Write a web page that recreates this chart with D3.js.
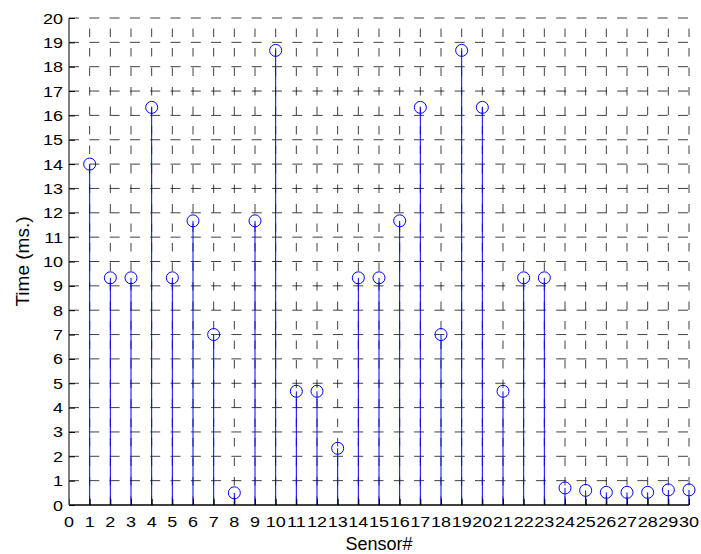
<!DOCTYPE html>
<html>
<head>
<meta charset="utf-8">
<script src="https://cdn.jsdelivr.net/npm/d3@7"></script>
<style>
  body { margin: 0; background: #fff; }
  text { font-family: "Liberation Sans", Arial, Helvetica, sans-serif; fill: #000; }
</style>
</head>
<body>
<svg id="canvas" width="701" height="554"></svg>
<script>
// sensor number and measured time (ms.)
let sensors = d3.range(1, 31)
let times = [14.0, 9.33, 9.33, 16.33, 9.33, 11.67, 7.0, 0.5, 11.67, 18.67,
             4.67, 4.67, 2.33, 9.33, 9.33, 11.67, 16.33, 7.0, 18.67, 16.33,
             4.67, 9.33, 9.33, 0.7, 0.6, 0.52, 0.52, 0.52, 0.62, 0.62]
let xTicks = d3.range(0, 31)
let yTicks = d3.range(0, 21)

let canvas = d3.select('#canvas')

let plotLeft = 69, plotRight = 689, plotTop = 18, plotBottom = 505
let x = d3.scaleLinear().domain([0, 30]).range([plotLeft, plotRight])
let y = d3.scaleLinear().domain([0, 20]).range([plotBottom, plotTop])

// labels in the picture look a bit wide, so stretch them horizontally
let stretch = 1.16

// grid (dashed), horizontal left->right, vertical bottom->top
let grid = canvas.append('g')
    .attr('stroke', '#000')
    .attr('stroke-opacity', 0.75)
    .attr('stroke-width', 1)
    .attr('fill', 'none')

grid.selectAll('.hgrid')
    .data(yTicks.filter(d => d > 0))
    .enter()
    .append('line')
    .attr('x1', plotLeft).attr('x2', plotRight)
    .attr('y1', d => y(d)).attr('y2', d => y(d))
    .attr('stroke-dasharray', '10,10.3')

grid.selectAll('.vgrid')
    .data(xTicks.filter(d => d > 0))
    .enter()
    .append('line')
    .attr('x1', d => x(d)).attr('x2', d => x(d))
    .attr('y1', plotBottom).attr('y2', plotTop)
    .attr('stroke-dasharray', '8.5,11')

// stems
let stems = canvas.append('g')
stems.selectAll('line')
    .data(times)
    .enter()
    .append('line')
    .attr('x1', (d, i) => x(sensors[i]))
    .attr('x2', (d, i) => x(sensors[i]))
    .attr('y1', y(0))
    .attr('y2', d => y(d))
    .attr('stroke', '#0000ff')
    .attr('stroke-width', 1)

stems.selectAll('circle')
    .data(times)
    .enter()
    .append('circle')
    .attr('cx', (d, i) => x(sensors[i]))
    .attr('cy', d => y(d))
    .attr('r', 6)
    .attr('fill', 'none')
    .attr('stroke', '#0000ff')
    .attr('stroke-width', 1)

// axes (left and bottom only, ticks inside)
let xAxis = d3.axisBottom(x).tickValues(xTicks).tickSize(-6).tickFormat('')
let yAxis = d3.axisLeft(y).tickValues(yTicks).tickSize(-6).tickFormat('')

let gx = canvas.append('g')
    .attr('transform', 'translate(0,' + plotBottom + ')')
    .call(xAxis)
let gy = canvas.append('g')
    .attr('transform', 'translate(' + plotLeft + ',0)')
    .call(yAxis)

gx.select('.domain').attr('stroke', '#000').attr('stroke-width', 1.5).attr('d', 'M' + plotLeft + ',0H' + plotRight)
gy.select('.domain').attr('stroke', '#555').attr('stroke-width', 1.5).attr('d', 'M0,' + plotBottom + 'V' + plotTop)
canvas.selectAll('.tick line').attr('stroke', '#000').attr('stroke-width', 1)

// tick labels
canvas.append('g').selectAll('text')
    .data(xTicks)
    .enter()
    .append('text')
    .attr('transform', d => 'translate(' + x(d) + ',527) scale(' + stretch + ',1)')
    .attr('text-anchor', 'middle')
    .attr('font-size', 15.5)
    .text(d => d)

canvas.append('g').selectAll('text')
    .data(yTicks)
    .enter()
    .append('text')
    .attr('transform', d => 'translate(63,' + (y(d) + 5.5) + ') scale(' + stretch + ',1)')
    .attr('text-anchor', 'end')
    .attr('font-size', 15.5)
    .text(d => d)

// axis titles
canvas.append('text')
    .attr('x', (plotLeft + plotRight) / 2)
    .attr('y', 550)
    .attr('text-anchor', 'middle')
    .attr('font-size', 18)
    .text('Sensor#')

canvas.append('text')
    .attr('transform', 'translate(29,' + ((plotTop + plotBottom) / 2) + ') rotate(-90)')
    .attr('text-anchor', 'middle')
    .attr('font-size', 19)
    .text('Time (ms.)')
</script>
</body>
</html>
